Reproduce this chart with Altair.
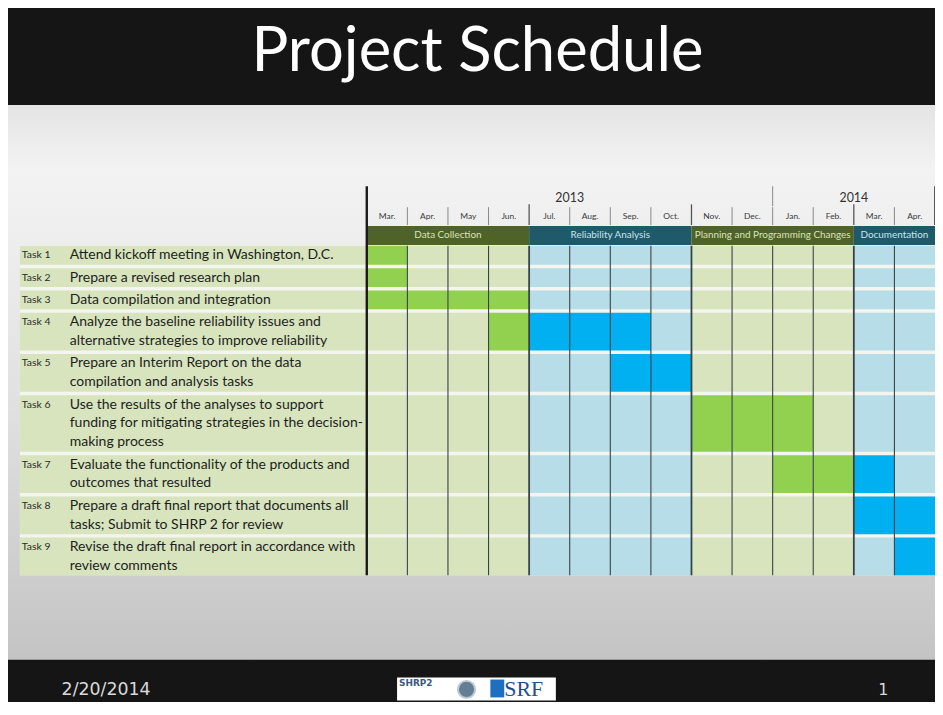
import altair as alt
import pandas as pd

# ---------------- data ----------------
months = ["Mar.", "Apr.", "May", "Jun.", "Jul.", "Aug.", "Sep.", "Oct.",
          "Nov.", "Dec.", "Jan.", "Feb.", "Mar.", "Apr."]
years = ["2013", "2014"]
year_start = [0, 10]
year_end = [10, 14]
phases = ["Data Collection", "Reliability Analysis",
          "Planning and Programming Changes", "Documentation"]
phase_start = [0, 4, 8, 12]
phase_end = [4, 8, 12, 14]
phase_kind = ["green", "blue", "green", "blue"]

task_ids = ["Task 1", "Task 2", "Task 3", "Task 4", "Task 5",
            "Task 6", "Task 7", "Task 8", "Task 9"]
task_text = [
    "Attend kickoff meeting in Washington, D.C.",
    "Prepare a revised research plan",
    "Data compilation and integration",
    "Analyze the baseline reliability issues and\nalternative strategies to improve reliability",
    "Prepare an Interim Report on the data\ncompilation and analysis tasks",
    "Use the results of the analyses to support\nfunding for mitigating strategies in the decision-\nmaking process",
    "Evaluate the functionality of the products and\noutcomes that resulted",
    "Prepare a draft final report that documents all\ntasks; Submit to SHRP 2 for review",
    "Revise the draft final report in accordance with\nreview comments",
]
task_months = [[0], [0], [0, 1, 2, 3], [3, 4, 5, 6], [6, 7],
               [8, 9, 10], [10, 11, 12], [12, 13], [13]]

title_text = "Project Schedule"
footer_date = "2/20/2014"
page_no = "1"

# ---------------- styles / layout ----------------
W, H = 934, 559
XMIN, XMAX = -8.84, 14
YMIN, YMAX = -7.474, 21.947
GAP = 0.184
LABEL_LEFT = -8.547
ID_X = -8.50
TEXT_X = -7.32

LIGHT = {"green": "#d7e4bd", "blue": "#b7dde8"}
BRIGHT = {"green": "#92d050", "blue": "#00b0f0"}
DARK = {"green": "#4f6228", "blue": "#1f5a6b"}
PTEXT = {"green": "#d8e4bc", "blue": "#c8e3ec"}
FONT = "Lato"

xs = alt.Scale(domain=[XMIN, XMAX], nice=False, zero=False)
ys = alt.Scale(domain=[YMIN, YMAX], nice=False, zero=False, reverse=True)


def X(f):
    return alt.X(f, type="quantitative", scale=xs, axis=None)


def X2(f):
    return alt.X2(f)


def Y(f):
    return alt.Y(f, type="quantitative", scale=ys, axis=None)


def Y2(f):
    return alt.Y2(f)


# month -> phase kind
month_kind = []
for m in range(len(months)):
    for s, e, k in zip(phase_start, phase_end, phase_kind):
        if s <= m < e:
            month_kind.append(k)

# row geometry from line counts
rows = []
top = 0.0
for tid, txt, hl in zip(task_ids, task_text, task_months):
    n = txt.count("\n") + 1
    rows.append(dict(id=tid, text=txt, top=top, bot=top + n,
                     first=top + 0.5, hl=hl))
    top += n + GAP
table_bot = top - GAP

rows_df = pd.DataFrame([{k: v for k, v in r.items() if k != "hl"} for r in rows])
rows_df["x0"] = LABEL_LEFT
rows_df["x1"] = 0
rows_df["idx"] = ID_X
rows_df["tx"] = TEXT_X

cells = []
for r in rows:
    for m in range(len(months)):
        k = month_kind[m]
        cells.append(dict(x0=m, x1=m + 1, top=r["top"], bot=r["bot"],
                          fill=BRIGHT[k] if m in r["hl"] else LIGHT[k]))
cells_df = pd.DataFrame(cells)

months_df = pd.DataFrame(dict(label=months, xc=[i + 0.5 for i in range(len(months))],
                              y=-1.58))
years_df = pd.DataFrame(dict(label=years,
                             xc=[(s + e) / 2 for s, e in zip(year_start, year_end)],
                             y=-2.55))
phases_df = pd.DataFrame(dict(label=phases, x0=phase_start, x1=phase_end,
                              xc=[(s + e) / 2 for s, e in zip(phase_start, phase_end)],
                              fill=[DARK[k] for k in phase_kind],
                              tcol=[PTEXT[k] for k in phase_kind],
                              y0=-1.05, y1=-0.05, yc=-0.55))

# grid lines
vlines = []
for i in range(1, len(months)):
    w = 1.8 if i in phase_start else 1.1
    vlines.append(dict(x=i, y0=0, y1=table_bot, w=w, c="#37434a"))
    ytop = -2.2 if i in phase_start else -2.05
    vlines.append(dict(x=i, y0=ytop, y1=-1.1, w=1.3 if i in phase_start else 1.0,
                       c="#555555" if i in phase_start else "#888888"))
for s in year_start[1:]:
    vlines.append(dict(x=s, y0=-3.16, y1=-2.1, w=1.0, c="#888888"))
vlines.append(dict(x=0, y0=-3.16, y1=table_bot, w=2.4, c="#1a1a1a"))
vlines.append(dict(x=len(months), y0=-3.16, y1=-1.1, w=1.6, c="#333333"))
vlines_df = pd.DataFrame(vlines)

# ---------------- layers ----------------
bg = alt.Chart(pd.DataFrame({"a": [0]})).mark_rect(
    color=alt.LinearGradient(
        gradient="linear", x1=0, x2=0, y1=0, y2=1,
        stops=[alt.GradientStop(offset=0, color="#e4e4e4"),
               alt.GradientStop(offset=0.12, color="#f3f3f3"),
               alt.GradientStop(offset=0.55, color="#e0e0e0"),
               alt.GradientStop(offset=1, color="#c4c4c4")])
).encode(x=alt.value(0), x2=alt.value(W), y=alt.value(0), y2=alt.value(H))

table_bg = alt.Chart(pd.DataFrame({"x0": [LABEL_LEFT], "x1": [XMAX],
                                   "y0": [-0.05], "y1": [table_bot]})).mark_rect(
    color="#f3f5ee").encode(x=X("x0"), x2=X2("x1"), y=Y("y0"), y2=Y2("y1"))

label_bg = alt.Chart(rows_df).mark_rect(color=LIGHT["green"]).encode(
    x=X("x0"), x2=X2("x1"), y=Y("top"), y2=Y2("bot"))

cell_layer = alt.Chart(cells_df).mark_rect().encode(
    x=X("x0"), x2=X2("x1"), y=Y("top"), y2=Y2("bot"),
    color=alt.Color("fill:N", scale=None))

phase_bar = alt.Chart(phases_df).mark_rect().encode(
    x=X("x0"), x2=X2("x1"), y=Y("y0"), y2=Y2("y1"),
    color=alt.Color("fill:N", scale=None))

phase_text = alt.Chart(phases_df).mark_text(
    font=FONT, fontSize=10, baseline="middle", align="center").encode(
    x=X("xc"), y=Y("yc"), text="label:N", color=alt.Color("tcol:N", scale=None))

month_text = alt.Chart(months_df).mark_text(
    font=FONT, fontSize=8.5, baseline="middle", align="center", color="#3a3a3a").encode(
    x=X("xc"), y=Y("y"), text="label:N")

year_text = alt.Chart(years_df).mark_text(
    font=FONT, fontSize=12.5, baseline="middle", align="center", color="#333333").encode(
    x=X("xc"), y=Y("y"), text="label:N")

rules = alt.Chart(vlines_df).mark_rule().encode(
    x=X("x"), y=Y("y0"), y2=Y2("y1"),
    strokeWidth=alt.StrokeWidth("w:Q", scale=None),
    color=alt.Color("c:N", scale=None))

id_text = alt.Chart(rows_df).mark_text(
    font=FONT, fontSize=10.5, baseline="middle", align="left", color="#2b2b2b").encode(
    x=X("idx"), y=Y("first"), text="id:N")

desc_text = alt.Chart(rows_df).mark_text(
    font=FONT, fontSize=14.1, baseline="middle", align="left", color="#1e1e1e",
    lineBreak="\n", lineHeight=19).encode(
    x=X("tx"), y=Y("first"), text="text:N")

title_layer = alt.Chart(pd.DataFrame({"t": [title_text]})).mark_text(
    font=FONT, fontSize=62, baseline="alphabetic", align="center", color="#ffffff"
).encode(x=alt.value(473), y=alt.value(-34), text="t:N")

footer_date_text = alt.Chart(pd.DataFrame({"t": [footer_date]})).mark_text(
    font="DejaVu Sans", fontSize=17.5, baseline="middle", align="left", color="#d9d9d9"
).encode(x=alt.value(54), y=alt.value(590), text="t:N")

page_text = alt.Chart(pd.DataFrame({"t": [page_no]})).mark_text(
    font="DejaVu Sans", fontSize=16, baseline="middle", align="center", color="#d9d9d9"
).encode(x=alt.value(882), y=alt.value(590), text="t:N")

logo_box = alt.Chart(pd.DataFrame({"a": [0]})).mark_rect(color="#ffffff").encode(
    x=alt.value(392), x2=alt.value(552), y=alt.value(577), y2=alt.value(600))
logo_blue = alt.Chart(pd.DataFrame({"a": [0]})).mark_rect(color="#1f6fc0").encode(
    x=alt.value(486), x2=alt.value(500), y=alt.value(579), y2=alt.value(597))
logo_t1 = alt.Chart(pd.DataFrame({"t": ["SHRP2"]})).mark_text(
    font="DejaVu Sans", fontWeight="bold", fontSize=9, color="#3d5a80",
    align="left", baseline="middle").encode(
    x=alt.value(394), y=alt.value(583), text="t:N")
logo_c = alt.Chart(pd.DataFrame({"a": [0]})).mark_point(
    shape="circle", size=300, filled=True, color="#234a66",
    stroke="#9fb3c8", strokeWidth=2).encode(x=alt.value(462), y=alt.value(589))
logo_t2 = alt.Chart(pd.DataFrame({"t": ["SRF"]})).mark_text(
    font="Liberation Serif", fontSize=22, color="#1f4f8e",
    align="left", baseline="middle").encode(
    x=alt.value(500), y=alt.value(589), text="t:N")

chart = alt.layer(
    bg, table_bg, label_bg, cell_layer, phase_bar, rules, phase_text,
    month_text, year_text, id_text, desc_text, title_layer,
    footer_date_text, page_text, logo_box, logo_blue, logo_t1, logo_c, logo_t2
).properties(
    width=W, height=H,
    background="#151515",
    padding={"left": 0, "right": 0, "top": 95, "bottom": 40},
    autosize=alt.AutoSizeParams(type="none"),
).configure_view(stroke=None)

chart.save("out.html", embed_options={"renderer": "svg", "actions": False})
